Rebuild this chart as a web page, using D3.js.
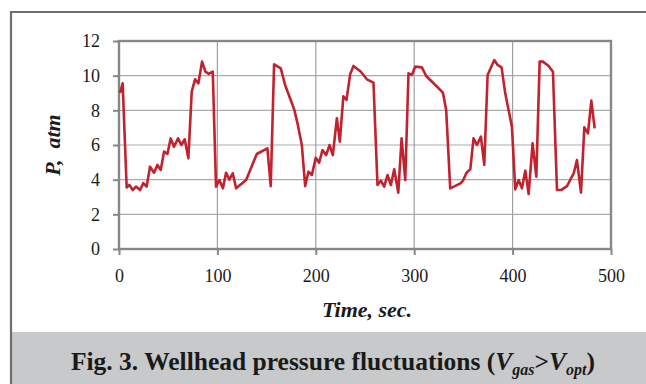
<!DOCTYPE html>
<html>
<head>
<meta charset="utf-8">
<script src="https://d3js.org/d3.v7.min.js"></script>
<style>
  body { margin: 0; background: #fff; }
  svg text { font-family: "Liberation Serif", "DejaVu Serif", serif; fill: #1a1a1a; }
</style>
</head>
<body>
<svg id="chart" width="646" height="384"></svg>
<script>
// time (sec) and wellhead pressure (atm)
const timeSec = [1.0, 3.7, 7.8, 10.5, 13.9, 17.3, 21.4, 24.7, 28.1, 31.5, 35.6, 39.0, 42.4, 45.8, 49.2,
  52.5, 55.9, 60.0, 63.4, 66.8, 70.5, 73.9, 77.3, 80.7, 84.4, 87.8, 91.2, 95.3, 98.6, 102.0,
  105.6, 108.8, 112.2, 115.6, 119.0, 129.2, 140.0, 150.8, 154.2, 157.6, 164.4, 168.8, 178.0, 181.4,
  185.8, 189.2, 192.5, 196.0, 200.0, 203.4, 206.8, 210.5, 214.0, 217.3, 221.4, 224.4, 228.0,
  231.2, 235.0, 238.3, 245.8, 251.9, 258.6, 262.7, 266.1, 269.5, 272.9, 276.3, 279.7, 283.8,
  287.2, 290.9, 294.2, 297.6, 301.0, 307.8, 312.2, 329.2, 332.5, 336.6, 347.0, 349.5, 353.2,
  357.0, 360.3, 363.7, 367.8, 371.2, 374.6, 381.4, 384.7, 388.8, 392.5, 399.3, 402.7, 406.1,
  409.5, 412.9, 416.3, 420.3, 424.1, 427.5, 430.8, 436.6, 441.0, 445.1, 449.2, 455.3, 462.1,
  465.4, 469.5, 472.9, 476.6, 480.0, 483.4];
const pressureAtm = [9.0, 9.56, 3.55, 3.7, 3.4, 3.6, 3.4, 3.8, 3.6, 4.75, 4.4, 4.85, 4.56, 5.62, 5.48,
  6.38, 5.9, 6.38, 6.0, 6.33, 5.23, 9.08, 9.79, 9.56, 10.81, 10.23, 10.1, 10.23, 3.6, 3.98,
  3.5, 4.4, 4.0, 4.37, 3.5, 3.98, 5.48, 5.81, 3.63, 10.65, 10.42, 9.46, 8.06, 7.25,
  6.0, 3.63, 4.46, 4.27, 5.27, 4.98, 5.71, 5.42, 6.0, 5.42, 7.54, 6.19, 8.81,
  8.6, 10.1, 10.56, 10.23, 9.79, 9.6, 3.69, 3.94, 3.6, 4.27, 3.69, 4.6, 3.25,
  6.38, 3.98, 10.13, 10.04, 10.52, 10.48, 9.98, 9.02, 8.02, 3.5, 3.79, 3.94, 4.4,
  4.6, 6.38, 6.0, 6.48, 4.85, 10.04, 10.9, 10.62, 10.48, 8.98, 7.06, 3.44, 3.98,
  3.5, 4.52, 3.17, 6.1, 4.17, 10.81, 10.81, 10.56, 10.23, 3.4, 3.4, 3.63, 4.37,
  5.13, 3.25, 7.02, 6.67, 8.56, 6.96];
const xTicks = [0, 100, 200, 300, 400, 500];
const yTicks = [0, 2, 4, 6, 8, 10, 12];

const svg = d3.select("#chart");
const W = 646, H = 384;

// caption band + outer frame
svg.append("rect").attr("x", 11).attr("y", 332).attr("width", W - 11).attr("height", H - 332)
  .attr("fill", "#c8c9cb");
svg.append("path").attr("d", `M11,${H} V12 H${W}`)
  .attr("fill", "none").attr("stroke", "#6f6f6f").attr("stroke-width", 2.2);

const pLeft = 119, pRight = 611, pTop = 41, pBottom = 249;
const x = d3.scaleLinear().domain([0, 500]).range([pLeft, pRight]);
const y = d3.scaleLinear().domain([0, 12]).range([pBottom, pTop]);

// grid
svg.append("g").selectAll("line").data(yTicks.slice(1, -1)).join("line")
  .attr("x1", pLeft).attr("x2", pRight).attr("y1", d => y(d)).attr("y2", d => y(d))
  .attr("stroke", "#ababab").attr("stroke-width", 1.2);
svg.append("g").selectAll("line").data(xTicks.slice(1, -1)).join("line")
  .attr("y1", pTop).attr("y2", pBottom).attr("x1", d => x(d)).attr("x2", d => x(d))
  .attr("stroke", "#a0a0a0").attr("stroke-width", 1.2);

// axes
const yAxis = svg.append("g").attr("transform", `translate(${pLeft},0)`)
  .call(d3.axisLeft(y).tickValues(yTicks).tickSize(6).tickPadding(13));
const xAxis = svg.append("g").attr("transform", `translate(0,${pBottom})`)
  .call(d3.axisBottom(x).tickValues(xTicks).tickSize(6).tickPadding(14));
[yAxis, xAxis].forEach(a => {
  a.select(".domain").remove();
  a.selectAll(".tick line").attr("stroke", "#868686").attr("stroke-width", 2);
  a.selectAll("text").style("font-size", "18px").style("fill", "#1a1a1a")
    .style("font-family", "'Liberation Serif', serif");
});

// plot frame
svg.append("rect").attr("x", pLeft).attr("y", pTop).attr("width", pRight - pLeft).attr("height", pBottom - pTop)
  .attr("fill", "none").attr("stroke", "#878787").attr("stroke-width", 2.4);

// series
const line = d3.line().x((d, i) => x(timeSec[i])).y(d => y(d));
svg.append("path").datum(pressureAtm)
  .attr("d", line).attr("fill", "none").attr("stroke", "#c1222e")
  .attr("stroke-width", 2.6).attr("stroke-linejoin", "round");

// axis titles
svg.append("text").attr("x", 367).attr("y", 317).attr("text-anchor", "middle")
  .attr("font-size", 22).attr("font-weight", "bold").attr("font-style", "italic")
  .text("Time, sec.");
svg.append("text").attr("transform", "translate(60,145) rotate(-90)").attr("text-anchor", "middle")
  .attr("font-size", 22).attr("font-weight", "bold").attr("font-style", "italic")
  .attr("xml:space", "preserve").text("P,  atm");

// caption
const cap = svg.append("text").attr("x", 333).attr("y", 370).attr("text-anchor", "middle")
  .attr("font-size", 25.5).attr("font-weight", "bold").attr("fill", "#222");
cap.append("tspan").text("Fig. 3. Wellhead pressure fluctuations (");
cap.append("tspan").attr("font-style", "italic").text("V");
cap.append("tspan").attr("font-style", "italic").attr("font-size", 16).attr("dy", 5).text("gas");
cap.append("tspan").attr("dy", -5).text(">");
cap.append("tspan").attr("font-style", "italic").text("V");
cap.append("tspan").attr("font-style", "italic").attr("font-size", 16).attr("dy", 5).text("opt");
cap.append("tspan").attr("dy", -5).text(")");
</script>
</body>
</html>
